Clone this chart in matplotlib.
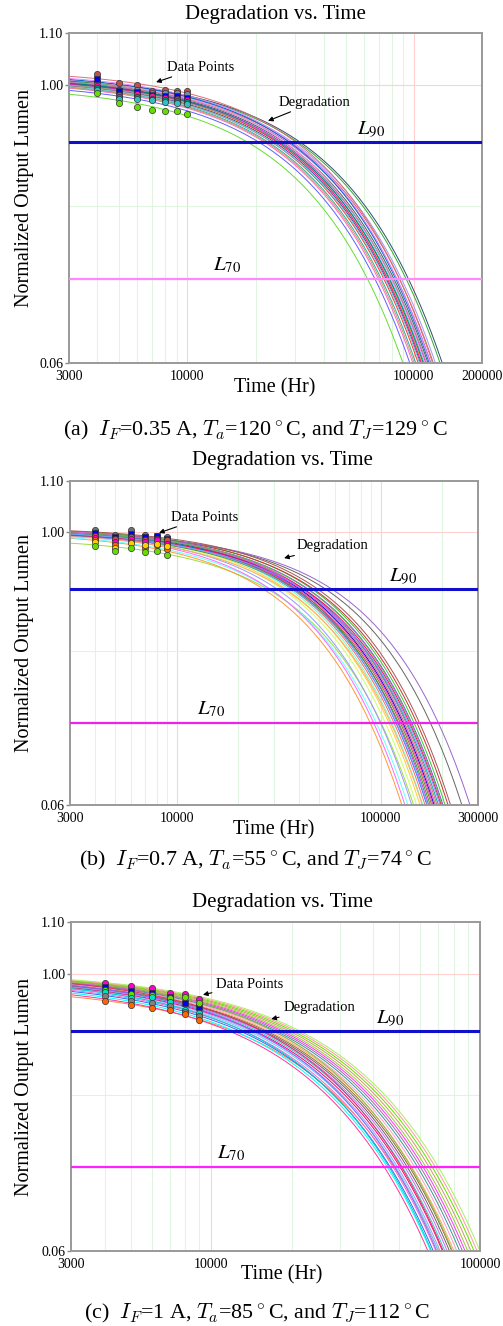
import numpy as np
import matplotlib.pyplot as plt

plt.rcParams['font.family'] = ['Liberation Serif', 'DejaVu Serif']
plt.rcParams['mathtext.fontset'] = 'stix'

# ---------------- panel (a): IF=0.35 A ----------------
times_a = [4000, 5000, 6000, 7000, 8000, 9000, 10000]
points_a = [
    [1.020, 1.003, 0.999, 0.988, 0.990, 0.989, 0.988],
    [1.005, 0.991, 0.991, 0.986, 0.985, 0.985, 0.983],
    [1.010, 0.988, 0.987, 0.982, 0.980, 0.980, 0.977],
    [0.998, 0.982, 0.983, 0.979, 0.976, 0.975, 0.973],
    [0.994, 0.978, 0.978, 0.975, 0.972, 0.971, 0.969],
    [0.990, 0.975, 0.975, 0.972, 0.969, 0.968, 0.966],
    [0.985, 0.968, 0.960, 0.955, 0.954, 0.954, 0.948],
]
pcolors_a = ['#c0504d', '#7090a8', '#0000ff', '#ff1493', '#008b8b', '#30c0c0', '#66dd00']
pmarkers_a = ['o', 'o', 's', 'o', 'o', 'o', 'o']
# fitted exponential curves: level at 3000 h and hours to reach 0.6
start_a = [0.983, 0.990, 0.994, 0.996, 0.998, 0.999, 1.000, 1.001, 1.002, 1.003, 1.004, 1.005,
           1.006, 1.007, 1.008, 1.009, 1.010, 0.997, 0.995, 1.002, 1.003, 1.012, 1.016, 0.999]
end_a = [89500, 96000, 99000, 102000, 104500, 107000, 109000, 111000, 113000, 115500, 119000, 122000,
         124500, 130500, 133500, 112000, 117000, 106000, 100500, 108000, 110000, 118000, 121000, 114000]
colors_a = ['#66dd33', '#6060ff', '#ff66cc', '#20b2aa', '#ff3333', '#4444aa', '#ffa500', '#00cccc',
            '#ff00ff', '#336666', '#aa66cc', '#cc6666', '#9999ff', '#33aa33', '#2f4f6f', '#ff99cc',
            '#0066cc', '#66cccc', '#cc9966', '#ff1493', '#008080', '#dd88ff', '#e07070', '#999999']

# ---------------- panel (b): IF=0.7 A ----------------
times_b = [4000, 5000, 6000, 7000, 8000, 9000]
points_b = [
    [1.004, 0.995, 1.004, 0.995, 0.994, 0.991],
    [0.998, 0.992, 0.997, 0.992, 0.994, 0.988],
    [0.993, 0.988, 0.992, 0.986, 0.988, 0.985],
    [0.989, 0.982, 0.987, 0.982, 0.985, 0.978],
    [0.985, 0.977, 0.983, 0.972, 0.977, 0.969],
    [0.982, 0.971, 0.980, 0.976, 0.978, 0.974],
    [0.975, 0.965, 0.972, 0.963, 0.966, 0.958],
]
pcolors_b = ['#707070', '#0000ff', '#c0504d', '#ff00cc', '#ff6600', '#ffcc00', '#66dd00']
pmarkers_b = ['o', 's', 'o', 'o', 'o', 'o', 'o']
start_b = [0.980, 0.989, 0.990, 0.995, 0.996, 0.997, 0.998, 0.999, 1.000, 1.001, 1.002, 0.994,
           0.996, 0.998, 0.999, 1.000, 1.001, 0.997, 0.993, 0.995, 0.999, 1.002, 1.000, 0.998,
           0.996, 0.992, 0.997, 1.001, 0.999, 1.003]
end_b = [145000, 127000, 136000, 131500, 142000, 150000, 156000, 161000, 165000, 168500, 172000, 175000,
         178000, 180500, 183000, 186000, 189000, 192000, 195500, 198000, 202000, 207000, 214000, 250000,
         274000, 160000, 170000, 185000, 200000, 220000]
colors_b = ['#99dd44', '#ff9933', '#66ffff', '#ff66ff', '#9999ff', '#ccff66', '#ffcc33', '#66ffcc',
            '#ff6666', '#3366ff', '#cc33cc', '#339933', '#996633', '#ff33aa', '#0000cc', '#aaaa00',
            '#cc6699', '#00aaaa', '#8888ff', '#ff0066', '#9933ff', '#33cc33', '#cc3333', '#666666',
            '#9966cc', '#ffaa66', '#66aaff', '#dd66dd', '#55bb55', '#aa5555']

# ---------------- panel (c): IF=1 A ----------------
times_c = [4000, 5000, 6000, 7000, 8000, 9000]
points_c = [
    [0.9836, 0.9777, 0.9735, 0.9657, 0.9628, 0.9539],
    [0.9765, 0.9693, 0.9657, 0.9586, 0.9470, 0.9411],
    [0.9705, 0.9634, 0.9616, 0.9568, 0.9586, 0.9470],
    [0.9663, 0.9557, 0.9574, 0.9498, 0.9354, 0.9297],
    [0.9598, 0.9516, 0.9470, 0.9423, 0.9325, 0.9250],
    [0.9516, 0.9441, 0.9394, 0.9354, 0.9286, 0.9183],
]
pcolors_c = ['#ff00cc', '#0000ff', '#66dd00', '#00e0c0', '#808080', '#ff6600']
pmarkers_c = ['o', 's', 'o', 'o', 'o', 'o']
start_c = [0.9585, 0.962, 0.965, 0.968, 0.970, 0.972, 0.974, 0.975, 0.976, 0.977, 0.978, 0.979,
           0.980, 0.981, 0.982, 0.983, 0.984, 0.985, 0.986, 0.987, 0.988, 0.989, 0.973, 0.979,
           0.982, 0.986]
end_c = [70000, 64000, 65500, 67000, 68500, 70000, 71000, 72500, 74000, 75500, 77000, 78500,
         80000, 82000, 84000, 86000, 88000, 90000, 92500, 95000, 97500, 100000, 66000, 69000,
         73000, 79000]
colors_c = ['#ff8844', '#ff3399', '#00ffff', '#3366ff', '#ff66cc', '#66ccff', '#9999ff', '#ff0066',
            '#33cccc', '#cc66ff', '#666666', '#996633', '#ffaa66', '#ff99cc', '#339999', '#aa66aa',
            '#ff33ff', '#99cc33', '#cc9966', '#66dd00', '#ff9999', '#aaee66', '#00cccc', '#8866ff',
            '#dd3366', '#88bb44']

xmax_list = [200000, 300000, 100000]
xtick_list = [[3000, 10000, 100000, 200000], [3000, 10000, 100000, 300000], [3000, 10000, 100000]]
captions = [r'(a)  $I_F$=0.35 A, $T_a$=120$^\circ$C, and $T_J$=129$^\circ$C',
            r'(b)  $I_F$=0.7 A, $T_a$=55$^\circ$C, and $T_J$=74$^\circ$C',
            r'(c)  $I_F$=1 A, $T_a$=85$^\circ$C, and $T_J$=112$^\circ$C']

W, H = 503, 1326
fig = plt.figure(figsize=(W / 100, H / 100), dpi=100)

# axes boxes in pixels: left, top, right, bottom
boxes = [(69, 33, 482, 363), (70, 481.5, 478, 805), (71, 922, 480, 1251)]
title_pos = [(275, 15), (282, 461), (282, 903)]
xlabel_pos = [(275, 388), (274, 830), (282, 1275)]
caption_pos = [(255, 430), (255, 860), (257, 1313)]
# annotation anchors (data coords): data-point arrow head/text, degradation arrow head/text, L90 x, L70 x
ann = [
    ((7270, 1.005), (8130, 1.033), (22700, 0.936), (25400, 0.969), 56000, 13000),
    ((8190, 0.999), (9380, 1.029), (33600, 0.953), (38900, 0.975), 110000, 12600),
    ((9300, 0.962), (10400, 0.981), (16700, 0.920), (18500, 0.939), 41000, 10500),
]
l70_colors = ['#ff88ff', '#ee22ee', '#ff22ff']

panels = [
    (times_a, points_a, pcolors_a, pmarkers_a, start_a, end_a, colors_a),
    (times_b, points_b, pcolors_b, pmarkers_b, start_b, end_b, colors_b),
    (times_c, points_c, pcolors_c, pmarkers_c, start_c, end_c, colors_c),
]

for i, (times, points, pcols, pmarks, starts, ends, cols) in enumerate(panels):
    l, t, r, b = boxes[i]
    ax = fig.add_axes([l / W, 1 - b / H, (r - l) / W, (b - t) / H])
    xmax = xmax_list[i]
    ax.set_xscale('log')
    ax.set_yscale('log')
    ax.set_xlim(3000, xmax)
    ax.set_ylim(0.6, 1.1)

    # grid
    for d in [1000, 10000, 100000]:
        for m in range(1, 10):
            x = m * d
            if 3000 < x < xmax:
                c = '#ffd0d0' if m == 1 else '#dff5df'
                ax.axvline(x, color=c, lw=0.8, zorder=0)
    for yv in [0.7, 0.8, 0.9]:
        ax.axhline(yv, color='#dff5df', lw=0.8, zorder=0)
    ax.axhline(1.0, color='#ffd0d0', lw=0.8, zorder=0)

    # fitted degradation curves
    tt = np.logspace(np.log10(3000), np.log10(xmax), 400)
    for s, e, c in zip(starts, ends, cols):
        tau = (e - 3000) / np.log(s / 0.6)
        b0 = s * np.exp(3000 / tau)
        ax.plot(tt, b0 * np.exp(-tt / tau), color=c, lw=0.7, zorder=2)

    # L90 / L70
    ax.axhline(0.9, color='#1010cc', lw=2.2, zorder=3)
    ax.axhline(0.7, color=l70_colors[i], lw=1.6, zorder=3)

    # data points
    for vals, c, mk in zip(points, pcols, pmarks):
        ax.plot(times, vals, ls='none', marker=mk, ms=4.5, mfc=c, mec='#333333', mew=0.5, zorder=4)

    dp_head, dp_txt, dg_head, dg_txt, l90x, l70x = ann[i]
    arw = dict(arrowstyle='-|>', color='black', lw=0.8, mutation_scale=7, shrinkA=1, shrinkB=0)
    ax.annotate('Data Points', xy=dp_head, xytext=dp_txt, ha='left', va='center', fontsize=10.5,
                arrowprops=arw, zorder=5)
    ax.annotate('Degradation', xy=dg_head, xytext=dg_txt, ha='left', va='center', fontsize=10.5,
                arrowprops=arw, zorder=5)
    ax.text(l90x, 0.905, r'$L_{90}$', fontsize=15, ha='left', va='bottom', zorder=5)
    ax.text(l70x, 0.705, r'$L_{70}$', fontsize=15, ha='left', va='bottom', zorder=5)

    ax.set_yticks([0.6, 1.0, 1.1])
    ax.set_yticklabels(['0.06', '1.00', '1.10'])
    ax.set_xticks(xtick_list[i])
    ax.set_xticklabels([str(v) for v in xtick_list[i]])
    ax.minorticks_off()
    ax.tick_params(axis='y', length=3, width=1, color='#888888', labelsize=10, pad=1)
    ax.tick_params(axis='x', length=0, labelsize=10, pad=5)
    for sp in ax.spines.values():
        sp.set_color('#999999')
        sp.set_linewidth(1.4)

    fig.text(title_pos[i][0] / W, 1 - title_pos[i][1] / H, 'Degradation vs. Time',
             fontsize=15, ha='center', va='center')
    fig.text(xlabel_pos[i][0] / W, 1 - xlabel_pos[i][1] / H, 'Time (Hr)',
             fontsize=14.5, ha='center', va='center')
    fig.text(25 / W, 1 - (t + b) / 2 / H, 'Normalized Output Lumen', fontsize=14.5,
             rotation=90, ha='center', va='center')
    fig.text(caption_pos[i][0] / W, 1 - caption_pos[i][1] / H, captions[i], fontsize=15.8,
             ha='center', va='center', math_fontfamily='cm')

fig.savefig('out.png', dpi=100)
